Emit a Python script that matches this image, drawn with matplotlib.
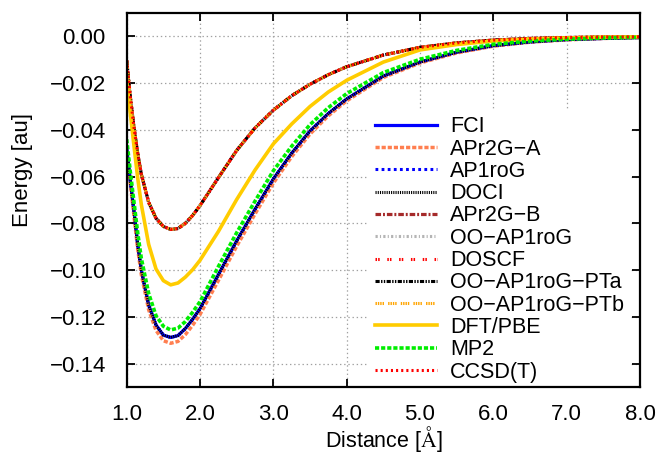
import matplotlib
matplotlib.use("Agg")
import matplotlib.pyplot as plt
from matplotlib.ticker import FuncFormatter

plt.rcParams['font.family'] = ['Liberation Sans', 'DejaVu Sans']
plt.rcParams['mathtext.fontset'] = 'cm'
plt.rcParams['lines.scale_dashes'] = False

distance = [1.0, 1.05, 1.1, 1.15, 1.2, 1.3, 1.4, 1.5, 1.6, 1.7, 1.8, 1.9, 2.0,
            2.25, 2.5, 2.75, 3.0, 3.25, 3.5, 3.75, 4.0, 4.5, 5.0, 5.5, 6.0,
            6.5, 7.0, 7.5, 8.0]

# lower group (FCI, AP1roG, DOCI)
fci = [-0.048, -0.062, -0.075, -0.089, -0.100, -0.115, -0.1235, -0.1278, -0.1288,
       -0.1280, -0.1250, -0.1210, -0.1165, -0.1020, -0.0875, -0.0740, -0.0610,
       -0.0500, -0.0405, -0.0330, -0.0268, -0.0170, -0.0110, -0.0068, -0.0040,
       -0.0024, -0.0014, -0.0009, -0.0005]
apr2g_a = [-0.049, -0.063, -0.077, -0.091, -0.102, -0.117, -0.1258, -0.1302, -0.1313,
           -0.1305, -0.1276, -0.1236, -0.1190, -0.1045, -0.0898, -0.0760, -0.0628,
           -0.0515, -0.0418, -0.0340, -0.0276, -0.0176, -0.0114, -0.0071, -0.0042,
           -0.0025, -0.0015, -0.0009, -0.0005]
ap1rog = list(fci)
doci = list(fci)

# upper group
upper = [-0.0103, -0.026, -0.039, -0.050, -0.059, -0.0710, -0.0778, -0.0813, -0.0826,
         -0.0822, -0.0800, -0.0766, -0.0724, -0.0605, -0.0488, -0.0392, -0.0316,
         -0.0254, -0.0205, -0.0164, -0.0130, -0.0080, -0.0047, -0.0028, -0.0016,
         -0.0009, -0.0005, -0.0003, -0.0002]
apr2g_b = list(upper)
oo_ap1rog = list(upper)
doscf = list(upper)
oo_pta = list(upper)
oo_ptb = list(upper)
ccsdt = list(upper)

dft_pbe = [-0.019, -0.033, -0.047, -0.0605, -0.072, -0.089, -0.0995, -0.1045, -0.1063,
           -0.1055, -0.1030, -0.0998, -0.0958, -0.0835, -0.0698, -0.0572, -0.0460,
           -0.0375, -0.0300, -0.0238, -0.0188, -0.0110, -0.0058, -0.0035, -0.0020,
           -0.0012, -0.0007, -0.0004, -0.0002]
mp2 = [-0.044, -0.058, -0.071, -0.084, -0.095, -0.110, -0.1195, -0.1240, -0.1256,
       -0.1248, -0.1220, -0.1180, -0.1135, -0.0985, -0.0840, -0.0705, -0.0575,
       -0.0470, -0.0378, -0.0305, -0.0245, -0.0155, -0.0098, -0.0060, -0.0034,
       -0.0020, -0.0012, -0.0007, -0.0004]

labels = ["FCI", "APr2G\u2212A", "AP1roG", "DOCI", "APr2G\u2212B", "OO\u2212AP1roG",
          "DOSCF", "OO\u2212AP1roG\u2212PTa", "OO\u2212AP1roG\u2212PTb", "DFT/PBE",
          "MP2", "CCSD(T)"]
series = [fci, apr2g_a, ap1rog, doci, apr2g_b, oo_ap1rog, doscf, oo_pta, oo_ptb,
          dft_pbe, mp2, ccsdt]
styles = [
    dict(color='#0000ff', lw=2.3, ls='-'),
    dict(color='#ff7f50', lw=2.5, ls=(0, (3.0, 1.4))),
    dict(color='#0000ff', lw=2.2, ls=(0, (2.0, 2.4))),
    dict(color='#000000', lw=2.2, ls=(0, (0.8, 0.8))),
    dict(color='#a52a2a', lw=2.3, ls=(0, (4.0, 1.4, 1.4, 1.4))),
    dict(color='#b4b4b4', lw=2.2, ls=(0, (1.6, 1.6, 0.8, 1.6))),
    dict(color='#ff0000', lw=2.2, ls=(0, (1.1, 0.8, 1.1, 5.5))),
    dict(color='#000000', lw=2.2, ls=(0, (3.0, 1.0, 1.0, 1.0, 1.0, 1.0))),
    dict(color='#ffa500', lw=2.2, ls=(0, (1.0, 0.7, 1.0, 0.7, 1.0, 0.7, 1.0, 3.0))),
    dict(color='#ffcc00', lw=2.6, ls='-'),
    dict(color='#00ee00', lw=2.6, ls=(0, (3.0, 1.4))),
    dict(color='#ff0000', lw=2.2, ls=(0, (1.5, 2.2))),
]

fig = plt.figure(figsize=(6.56, 4.54), dpi=100)
ax = fig.add_axes([0.1931, 0.1476, 0.7825, 0.8238])

for lab, ys, st in zip(labels, series, styles):
    ax.plot(distance, ys, label=lab, **st)

ax.set_xlim(1.0, 8.0)
ax.set_ylim(-0.15, 0.01)
ax.set_xticks([1, 2, 3, 4, 5, 6, 7, 8])
ax.set_yticks([-0.14, -0.12, -0.10, -0.08, -0.06, -0.04, -0.02, 0.00])
ax.xaxis.set_major_formatter(FuncFormatter(lambda v, p: f"{v:.1f}"))
ax.yaxis.set_major_formatter(
    FuncFormatter(lambda v, p: f"{v:.2f}".replace('-', '\u2212') if abs(v) > 1e-9 else "0.00"))
ax.tick_params(direction='in', length=6, width=1.3, labelsize=16,
               top=True, right=True)
ax.tick_params(axis='x', pad=12)
ax.tick_params(axis='y', pad=15)
for sp in ax.spines.values():
    sp.set_linewidth(1.6)
ax.grid(True, color='#a0a0a0', ls=(0, (1, 2)), lw=0.9)

ax.set_xlabel("Distance [$\\mathrm{\\AA}$]", fontsize=15.5)
ax.set_ylabel("Energy [au]", fontsize=16)
ax.xaxis.set_label_coords(0.5, -0.098)
ax.yaxis.set_label_coords(-0.1825, 0.58)

leg = ax.legend(loc='upper left', bbox_to_anchor=(0.471, 0.741),
                borderaxespad=0, borderpad=0.3, fontsize=15.5,
                handlelength=2.88, handletextpad=0.6, labelspacing=0.06,
                frameon=True, fancybox=False, framealpha=1)
leg.get_frame().set_edgecolor('none')
leg.get_frame().set_facecolor('white')
leg.set_zorder(2.2)

fig.savefig("out.png", dpi=100)
